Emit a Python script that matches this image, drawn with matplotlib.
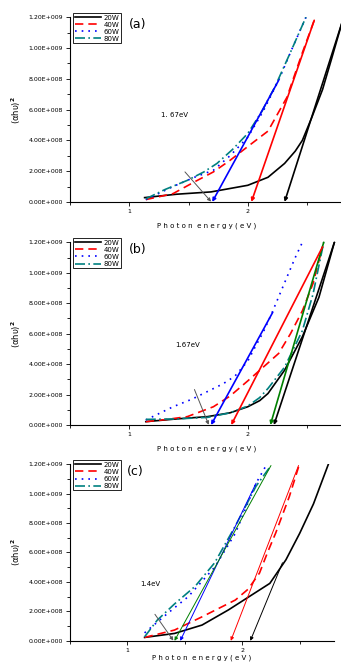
import numpy as np
import matplotlib
matplotlib.use("Agg")
import matplotlib.pyplot as plt
from matplotlib.ticker import MultipleLocator

plt.rcParams['font.family'] = ['DejaVu Sans']

labels = ["20W", "40W", "60W", "80W"]
colors = ["black", "#ff0000", "#0000ff", "#008080"]
styles = ["-", (0, (5, 3)), (0, (1, 3)), (0, (6, 2, 1, 2))]
ytick_labels = ["0.00E+000", "2.00E+008", "4.00E+008", "6.00E+008",
                "8.00E+008", "1.00E+009", "1.20E+009"]

# panel (a)
a_x20 = [1.13, 1.40, 1.69, 2.00, 2.17, 2.31, 2.40, 2.46, 2.54, 2.63, 2.71, 2.80]
a_y20 = [0.28, 0.50, 0.65, 1.08, 1.60, 2.50, 3.30, 4.00, 5.50, 7.30, 9.40, 11.8]
a_x40 = [1.14, 1.37, 1.55, 1.71, 1.85, 2.00, 2.17, 2.33, 2.37, 2.46, 2.56]
a_y40 = [0.15, 0.54, 1.30, 1.95, 2.70, 3.60, 4.60, 6.80, 7.70, 9.70, 11.8]
a_x60 = [1.14, 1.37, 1.55, 1.71, 1.85, 2.00, 2.13, 2.26, 2.37, 2.49]
a_y60 = [0.15, 1.00, 1.60, 2.06, 3.00, 4.20, 5.90, 7.90, 9.90, 12.0]
a_x80 = [1.14, 1.30, 1.49, 1.63, 1.74, 1.87, 2.00, 2.12, 2.23, 2.37, 2.49]
a_y80 = [0.20, 0.80, 1.40, 1.95, 2.50, 3.40, 4.45, 5.90, 7.50, 9.90, 12.0]
a_fits = [((2.80, 11.8), (2.31, 0.0), "black"),
          ((2.56, 11.8), (2.03, 0.0), "#ff0000"),
          ((2.26, 7.9), (1.70, 0.0), "#0000ff")]
a_gap = ((1.47, 1.95), (1.69, 0.02))
a_note = (1.27, 5.5, "1. 67eV")

# panel (b)
b_x20 = [1.14, 1.40, 1.66, 1.85, 2.00, 2.10, 2.17, 2.31, 2.46, 2.60, 2.73]
b_y20 = [0.22, 0.40, 0.55, 0.80, 1.20, 1.60, 2.07, 3.60, 5.80, 8.40, 12.0]
b_x40 = [1.14, 1.30, 1.49, 1.71, 1.85, 2.00, 2.13, 2.26, 2.36, 2.46, 2.55, 2.63]
b_y40 = [0.22, 0.35, 0.55, 1.20, 1.90, 2.90, 3.80, 4.70, 6.00, 7.50, 9.30, 11.7]
b_x60 = [1.14, 1.37, 1.53, 1.66, 1.79, 1.89, 2.00, 2.06, 2.13, 2.20, 2.27, 2.34, 2.40, 2.46]
b_y60 = [0.33, 1.20, 1.70, 2.20, 2.70, 3.20, 4.20, 5.10, 6.10, 7.30, 8.60, 9.90, 11.0, 12.0]
b_x80 = [1.14, 1.40, 1.66, 1.85, 2.00, 2.10, 2.17, 2.31, 2.46, 2.55, 2.64]
b_y80 = [0.37, 0.40, 0.50, 0.80, 1.25, 1.80, 2.40, 3.80, 6.20, 8.60, 12.0]
b_fits = [((2.73, 12.0), (2.22, 0.0), "black"),
          ((2.64, 12.0), (2.19, 0.0), "#008000"),
          ((2.63, 11.7), (1.86, 0.0), "#ff0000"),
          ((2.21, 7.4), (1.69, 0.0), "#0000ff")]
b_gap = ((1.55, 2.33), (1.67, 0.02))
b_note = (1.39, 5.1, "1.67eV")

# panel (c)
c_x20 = [1.15, 1.41, 1.65, 1.88, 2.06, 2.24, 2.38, 2.50, 2.62, 2.75]
c_y20 = [0.23, 0.50, 1.07, 2.10, 3.00, 3.90, 5.50, 7.30, 9.30, 12.0]
c_x40 = [1.15, 1.41, 1.65, 1.94, 2.05, 2.15, 2.22, 2.29, 2.41, 2.49]
c_y40 = [0.23, 0.73, 1.63, 2.77, 3.50, 4.60, 6.00, 7.30, 9.80, 11.8]
c_x60 = [1.15, 1.35, 1.53, 1.76, 1.94, 2.12, 2.20]
c_y60 = [0.54, 1.86, 3.00, 5.00, 7.30, 10.7, 11.8]
c_x80 = [1.15, 1.26, 1.41, 1.59, 1.76, 1.94, 2.12, 2.25]
c_y80 = [0.27, 1.40, 2.50, 3.70, 5.30, 7.80, 10.5, 11.9]
c_fits = [((2.35, 5.3), (2.07, 0.0), "black"),
          ((2.49, 11.9), (1.90, 0.0), "#ff0000"),
          ((2.12, 10.7), (1.46, 0.0), "#0000ff"),
          ((2.25, 11.9), (1.41, 0.0), "#008000")]
c_gap = ((1.24, 1.80), (1.40, 0.02))
c_note = (1.11, 3.7, "1.4eV")

panels = [
    ("(a)", [(a_x20, a_y20), (a_x40, a_y40), (a_x60, a_y60), (a_x80, a_y80)], a_fits, a_gap, a_note, 1.2, 6),
    ("(b)", [(b_x20, b_y20), (b_x40, b_y40), (b_x60, b_y60), (b_x80, b_y80)], b_fits, b_gap, b_note, 1.2, 6),
    ("(c)", [(c_x20, c_y20), (c_x40, c_y40), (c_x60, c_y60), (c_x80, c_y80)], c_fits, c_gap, c_note, 0.7, 1),
]
boxes = [[0.205, 0.695, 0.80, 0.279],
         [0.205, 0.358, 0.80, 0.276],
         [0.205, 0.032, 0.775, 0.267]]

fig = plt.figure(figsize=(3.41, 6.62), dpi=100)
for (tag, curves, fits, gap, note, fitlw, lpad), box in zip(panels, boxes):
    ax = fig.add_axes(box)
    for (x, y), lab, c, ls in zip(curves, labels, colors, styles):
        ax.plot(x, np.array(y) * 1e8, color=c, linestyle=ls, lw=1.2, label=lab)
    for top, bot, c in fits:
        ax.annotate("", xy=(bot[0], bot[1] * 1e8), xytext=(top[0], top[1] * 1e8),
                    arrowprops=dict(arrowstyle="-|>", color=c, lw=fitlw,
                                    mutation_scale=5, shrinkA=0, shrinkB=0))
    ax.annotate("", xy=(gap[1][0], gap[1][1] * 1e8), xytext=(gap[0][0], gap[0][1] * 1e8),
                arrowprops=dict(arrowstyle="-|>", color="#555555", lw=0.7,
                                mutation_scale=5, shrinkA=0, shrinkB=0))
    ax.text(note[0], note[1] * 1e8, note[2], fontsize=5)

    ax.set_xlim(0.5, 2.8)
    ax.set_ylim(0, 1.2e9)
    ax.set_xticks([1, 2])
    ax.set_xticklabels(["1", "2"])
    ax.xaxis.set_minor_locator(MultipleLocator(0.5))
    ax.set_yticks(np.arange(0, 1.21e9, 2e8))
    ax.set_yticklabels(ytick_labels)
    ax.yaxis.set_minor_locator(MultipleLocator(1e8))
    ax.tick_params(labelsize=4.5, length=3, width=0.6, pad=2)
    ax.tick_params(which="minor", length=2, width=0.6)
    for s in ["top", "right"]:
        ax.spines[s].set_visible(False)
    for s in ["left", "bottom"]:
        ax.spines[s].set_linewidth(0.8)
    ax.set_xlabel("P h o t o n  e n e r g y ( e V )", fontsize=5, labelpad=lpad)
    ax.set_ylabel("(αhυ)$^\\mathbf{2}$", fontsize=6, labelpad=4)
    leg = ax.legend(loc="upper left", bbox_to_anchor=(0.0, 1.04), fontsize=5,
                    handlelength=3.8, handletextpad=0.3, borderpad=0.2,
                    labelspacing=0.15, fancybox=False, edgecolor="black",
                    framealpha=1)
    leg.get_frame().set_linewidth(0.6)
    ax.text(0.215, 0.995, tag, transform=ax.transAxes, fontsize=9, va="top")

fig.savefig("out.png", dpi=100)
